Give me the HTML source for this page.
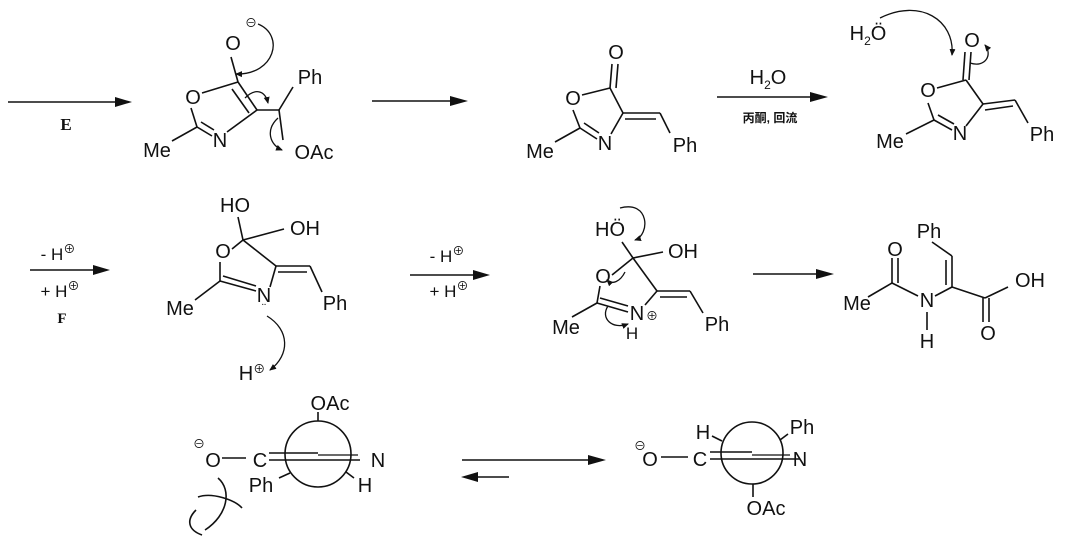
<!DOCTYPE html>
<html><head><meta charset="utf-8"><style>
html,body{margin:0;padding:0;background:#fff;}
svg{display:block;}
text{font-family:"Liberation Sans","Noto Sans CJK SC",sans-serif;font-size:20px;fill:#111;text-anchor:middle;}
.b{stroke:#111;stroke-width:1.6;fill:none;}
.c{stroke:#111;stroke-width:1.3;fill:none;marker-end:url(#ah);}
.sm{font-size:12px;}
.sup{font-size:12px;}
</style></head><body>
<svg width="1077" height="539" viewBox="0 0 1077 539" xmlns="http://www.w3.org/2000/svg">
<defs>
<marker id="ah" markerWidth="8" markerHeight="8" refX="6" refY="4" orient="auto" markerUnits="userSpaceOnUse"><path d="M0,1 L7,4 L0,7 z" fill="#111"/></marker>
</defs>
<!-- Row 1 arrows -->
<line class="b" x1="8" y1="102" x2="118" y2="102"/><path d="M115,97 L132,102 L115,107 z" fill="#111"/>
<text x="66" y="130" style="font-family:'Liberation Serif',serif;font-weight:bold;font-size:17px">E</text>
<line class="b" x1="372" y1="101" x2="452" y2="101"/><path d="M450,96 L468,101 L450,106 z" fill="#111"/>
<line class="b" x1="717" y1="97" x2="812" y2="97"/><path d="M810,92 L828,97 L810,102 z" fill="#111"/>
<text x="768" y="84">H<tspan class="sup" dy="5">2</tspan><tspan dy="-5">O</tspan></text>
<text x="770" y="122" class="sm" style="font-weight:bold">丙酮, 回流</text>

<!-- Mol 1 -->
<text x="233" y="50">O</text><text x="251" y="27" class="sup">⊖</text>
<line class="b" x1="231" y1="57" x2="238" y2="82"/>
<text x="193" y="104">O</text>
<line class="b" x1="202" y1="93" x2="238" y2="82"/>
<line class="b" x1="238" y1="82" x2="257" y2="110"/><line class="b" x1="232" y1="89" x2="249" y2="113"/>
<line class="b" x1="257" y1="110" x2="227" y2="132"/>
<text x="220" y="147">N</text>
<line class="b" x1="212" y1="136" x2="197" y2="127"/><line class="b" x1="214" y1="130" x2="201" y2="122"/>
<line class="b" x1="197" y1="127" x2="191" y2="108"/>
<line class="b" x1="197" y1="127" x2="172" y2="141"/>
<text x="157" y="157">Me</text>
<line class="b" x1="257" y1="110" x2="279" y2="110"/>
<line class="b" x1="279" y1="110" x2="293" y2="87"/>
<text x="310" y="84">Ph</text>
<line class="b" x1="279" y1="110" x2="283" y2="140"/>
<text x="314" y="159">OAc</text>
<path class="c" d="M258,24 C285,35 275,75 236,74"/>
<path class="c" d="M245,98 C255,88 265,90 268,103"/>
<path class="c" d="M278,118 C265,130 270,145 282,150"/>

<!-- Mol 2 -->
<text x="616" y="59">O</text>
<line class="b" x1="612" y1="64" x2="610" y2="88"/><line class="b" x1="618" y1="64" x2="616" y2="88"/>
<text x="573" y="105">O</text>
<line class="b" x1="582" y1="95" x2="610" y2="88"/>
<line class="b" x1="610" y1="88" x2="623" y2="113"/>
<line class="b" x1="623" y1="113" x2="611" y2="134"/>
<text x="605" y="150">N</text>
<line class="b" x1="597" y1="139" x2="580" y2="128"/><line class="b" x1="599" y1="133" x2="584" y2="123"/>
<line class="b" x1="580" y1="128" x2="573" y2="110"/>
<line class="b" x1="580" y1="128" x2="555" y2="142"/>
<text x="540" y="158">Me</text>
<line class="b" x1="623" y1="113" x2="660" y2="113"/><line class="b" x1="625" y1="119" x2="656" y2="119"/>
<line class="b" x1="660" y1="113" x2="670" y2="133"/>
<text x="685" y="152">Ph</text>

<!-- Mol 3 -->
<text x="868" y="40">H<tspan class="sup" dy="5">2</tspan><tspan dy="-5">Ö</tspan></text>
<path class="c" d="M880,18 C920,-2 955,20 952,55"/>
<text x="972" y="47">O</text>
<line class="b" x1="965" y1="52" x2="963" y2="80"/><line class="b" x1="971" y1="52" x2="969" y2="80"/>
<path class="c" d="M970,63 C985,68 993,55 985,45"/>
<text x="928" y="97">O</text>
<line class="b" x1="937" y1="88" x2="966" y2="80"/>
<line class="b" x1="966" y1="80" x2="983" y2="104"/>
<line class="b" x1="983" y1="104" x2="966" y2="126"/>
<text x="960" y="140">N</text>
<line class="b" x1="952" y1="130" x2="934" y2="120"/><line class="b" x1="954" y1="124" x2="938" y2="115"/>
<line class="b" x1="934" y1="120" x2="928" y2="103"/>
<line class="b" x1="934" y1="120" x2="906" y2="134"/>
<text x="890" y="148">Me</text>
<line class="b" x1="983" y1="104" x2="1015" y2="100"/><line class="b" x1="985" y1="110" x2="1013" y2="106"/>
<line class="b" x1="1015" y1="100" x2="1028" y2="123"/>
<text x="1042" y="141">Ph</text>

<!-- Row 2 arrows -->
<line class="b" x1="30" y1="270" x2="95" y2="270"/><path d="M93,265 L110,270 L93,275 z" fill="#111"/>
<text x="58" y="260" style="font-size:17px">- H<tspan class="sup" dy="-7">⊕</tspan></text>
<text x="60" y="297" style="font-size:17px">+ H<tspan class="sup" dy="-7">⊕</tspan></text>
<text x="62" y="323" style="font-family:'Liberation Serif',serif;font-weight:bold;font-size:15px">F</text>
<line class="b" x1="410" y1="275" x2="475" y2="275"/><path d="M473,270 L490,275 L473,280 z" fill="#111"/>
<text x="447" y="262" style="font-size:17px">- H<tspan class="sup" dy="-7">⊕</tspan></text>
<text x="449" y="297" style="font-size:17px">+ H<tspan class="sup" dy="-7">⊕</tspan></text>
<line class="b" x1="753" y1="274" x2="818" y2="274"/><path d="M816,269 L834,274 L816,279 z" fill="#111"/>

<!-- Mol 4 -->
<text x="235" y="212">HO</text>
<line class="b" x1="238" y1="217" x2="243" y2="240"/>
<line class="b" x1="243" y1="240" x2="284" y2="229"/>
<text x="305" y="235">OH</text>
<text x="223" y="258">O</text>
<line class="b" x1="232" y1="249" x2="243" y2="240"/>
<line class="b" x1="243" y1="240" x2="276" y2="266"/>
<line class="b" x1="276" y1="266" x2="270" y2="287"/>
<text x="264" y="302">N</text>
<text x="264" y="312" class="sup">¨</text>
<line class="b" x1="256" y1="291" x2="220" y2="281"/><line class="b" x1="256" y1="286" x2="223" y2="276"/>
<line class="b" x1="220" y1="281" x2="220" y2="262"/>
<line class="b" x1="220" y1="281" x2="195" y2="300"/>
<text x="180" y="315">Me</text>
<line class="b" x1="276" y1="266" x2="310" y2="266"/><line class="b" x1="278" y1="272" x2="307" y2="272"/>
<line class="b" x1="310" y1="266" x2="322" y2="292"/>
<text x="335" y="310">Ph</text>
<path class="c" d="M267,316 C290,330 290,355 270,370"/>
<text x="252" y="380">H<tspan class="sup" dy="-7">⊕</tspan></text>

<!-- Mol 5 -->
<text x="610" y="236">HÖ</text>
<path class="c" d="M620,208 C650,200 650,235 635,240"/>
<line class="b" x1="622" y1="242" x2="633" y2="258"/>
<line class="b" x1="633" y1="258" x2="663" y2="252"/>
<text x="683" y="258">OH</text>
<text x="603" y="283">O</text>
<line class="b" x1="612" y1="275" x2="633" y2="258"/>
<line class="b" x1="633" y1="258" x2="657" y2="291"/>
<line class="b" x1="657" y1="291" x2="645" y2="305"/>
<path class="c" d="M625,272 C620,282 612,285 607,280"/>
<text x="637" y="320">N</text><text x="652" y="320" class="sup">⊕</text>
<text x="632" y="339" style="font-size:17px">H</text>
<line class="b" x1="628" y1="312" x2="597" y2="303"/><line class="b" x1="628" y1="306" x2="600" y2="298"/>
<line class="b" x1="597" y1="303" x2="600" y2="286"/>
<line class="b" x1="597" y1="303" x2="572" y2="317"/>
<text x="566" y="334">Me</text>
<path class="c" d="M608,306 C600,318 612,330 628,324"/>
<line class="b" x1="657" y1="291" x2="690" y2="291"/><line class="b" x1="660" y1="297" x2="687" y2="297"/>
<line class="b" x1="690" y1="291" x2="703" y2="313"/>
<text x="717" y="331">Ph</text>

<!-- Mol 6 -->
<text x="929" y="238">Ph</text>
<line class="b" x1="932" y1="242" x2="952" y2="256"/>
<line class="b" x1="952" y1="256" x2="952" y2="287"/><line class="b" x1="946" y1="260" x2="946" y2="285"/>
<line class="b" x1="952" y1="287" x2="935" y2="296"/>
<text x="927" y="307">N</text>
<line class="b" x1="927" y1="312" x2="927" y2="330"/>
<text x="927" y="348">H</text>
<line class="b" x1="918" y1="296" x2="892" y2="283"/>
<line class="b" x1="892" y1="283" x2="892" y2="258"/><line class="b" x1="898" y1="283" x2="898" y2="258"/>
<text x="895" y="256">O</text>
<line class="b" x1="892" y1="283" x2="868" y2="297"/>
<text x="857" y="310">Me</text>
<line class="b" x1="952" y1="287" x2="985" y2="298"/>
<line class="b" x1="985" y1="298" x2="1008" y2="287"/>
<text x="1030" y="287">OH</text>
<line class="b" x1="983" y1="298" x2="983" y2="322"/><line class="b" x1="989" y1="298" x2="989" y2="322"/>
<text x="988" y="340">O</text>

<!-- Row 3 Newman left -->
<circle class="b" cx="318" cy="454" r="33"/>
<text x="330" y="410">OAc</text>
<line class="b" x1="318" y1="412" x2="318" y2="421"/>
<text x="199" y="448" class="sup">⊖</text>
<text x="213" y="467">O</text>
<line class="b" x1="222" y1="458" x2="246" y2="458"/>
<text x="260" y="467">C</text>
<line class="b" x1="269" y1="453" x2="318" y2="453"/>
<line class="b" x1="269" y1="460" x2="360" y2="460"/>
<line class="b" x1="318" y1="455" x2="358" y2="455" style="stroke-width:1.2"/>
<text x="378" y="467">N</text>
<text x="261" y="492">Ph</text>
<line class="b" x1="279" y1="478" x2="290" y2="473"/>
<line class="b" x1="346" y1="472" x2="354" y2="478"/>
<text x="365" y="492">H</text>
<path class="b" d="M218,478 C232,490 228,515 205,530"/>
<path class="b" d="M198,497 C212,492 235,500 242,508"/>
<path class="b" d="M196,510 C186,520 188,530 202,535"/>

<!-- Eq arrows -->
<line class="b" x1="462" y1="460" x2="590" y2="460"/><path d="M588,455 L606,460 L588,465 z" fill="#111"/>
<line class="b" x1="475" y1="477" x2="509" y2="477"/><path d="M478,472 L461,477 L478,482 z" fill="#111"/>

<!-- Newman right -->
<circle class="b" cx="752" cy="453" r="31"/>
<text x="703" y="439">H</text>
<line class="b" x1="712" y1="436" x2="722" y2="441"/>
<text x="802" y="434">Ph</text>
<line class="b" x1="780" y1="440" x2="788" y2="434"/>
<text x="640" y="450" class="sup">⊖</text>
<text x="650" y="466">O</text>
<line class="b" x1="661" y1="457" x2="688" y2="457"/>
<text x="700" y="466">C</text>
<line class="b" x1="710" y1="452" x2="752" y2="452"/>
<line class="b" x1="710" y1="459" x2="800" y2="459"/>
<line class="b" x1="752" y1="455" x2="790" y2="455" style="stroke-width:1.2"/>
<text x="800" y="466">N</text>
<line class="b" x1="753" y1="484" x2="753" y2="497"/>
<text x="766" y="515">OAc</text>
</svg>
</body></html>
